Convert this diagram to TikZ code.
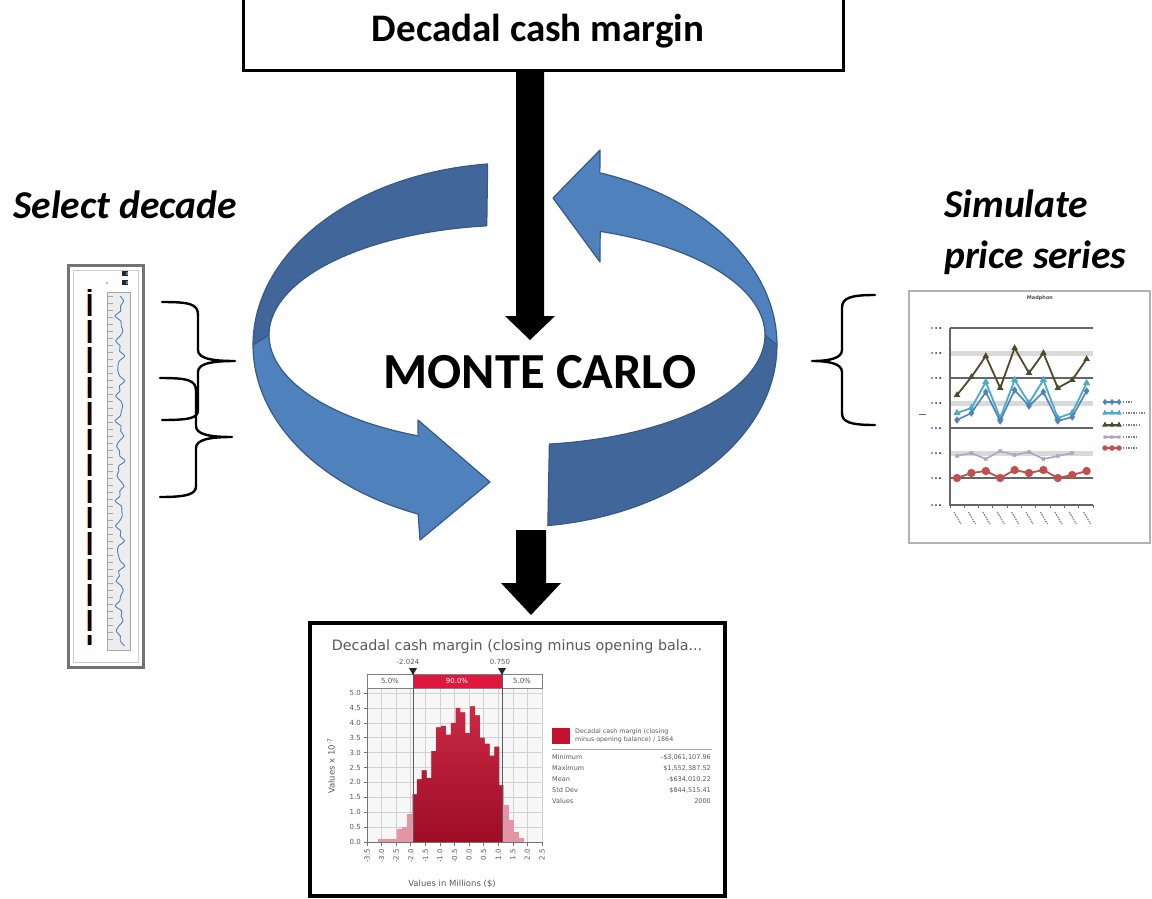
\documentclass[tikz,border=0pt]{standalone}
\usepackage{fontspec}
\setmainfont{Carlito}
\newfontfamily\chartfont{DejaVu Sans}
\usetikzlibrary{calc,plotmarks}
\definecolor{ringlight}{HTML}{4F81BD}
\definecolor{ringdark}{HTML}{41679A}
\definecolor{ringedge}{HTML}{365A88}
\definecolor{histred}{HTML}{C41230}
\definecolor{histdark}{HTML}{9E0C25}
\definecolor{barred}{HTML}{E0163F}
\definecolor{chartgray}{HTML}{595959}
\definecolor{gridgray}{HTML}{D9D9D9}
\definecolor{serolive}{HTML}{4E4A2B}
\definecolor{sercyan}{HTML}{4BACC6}
\definecolor{serblue}{HTML}{4F81BD}
\definecolor{serlav}{HTML}{B3A2C7}
\definecolor{serred}{HTML}{C0504D}
\tikzset{
  ringpart/.style={line width=1.2pt, draw=ringedge, line join=round},
  bracestroke/.style={line width=2.4pt, line cap=round, line join=round},
  bigtitle/.style={font=\fontsize{39}{41}\selectfont\bfseries, inner sep=0pt},
  sidelabel/.style={font=\fontsize{39.5}{51}\selectfont\bfseries\itshape, align=left, inner sep=0pt},
  chtxt/.style={font=\chartfont\fontsize{7}{8}\selectfont, text=chartgray, inner sep=0pt},
  legtxt/.style={font=\chartfont\fontsize{6.5}{7.5}\selectfont, text=chartgray, inner sep=0pt},
}
\begin{document}
\begin{tikzpicture}[x=1pt,y=-1pt]
\useasboundingbox (0,0) rectangle (1152,898);

% ---------- result box at the top ----------
\draw[line width=3pt] (243,-5) -- (243,70) -- (843,70) -- (843,-5);
\node[bigtitle] (margin) at (538,31) {Decadal cash margin};

% ---------- circular sweep arrows ----------
% left sweep: dark back part, light front part carrying the head
\fill[ringdark] plot[domain=264:180,samples=50] ({515+262*cos(\x)},{345+182*sin(\x)})
   -- plot[domain=180:263,samples=50] ({517+248*cos(\x)},{335+110*sin(\x)}) -- cycle;
\fill[ringlight] plot[domain=180:111.7,samples=50] ({515+262*cos(\x)},{345+182*sin(\x)})
   -- (420,540) -- (490,482) -- (418,420)
   -- plot[domain=113.5:180,samples=50] ({517+248*cos(\x)},{335+110*sin(\x)}) -- cycle;
\draw[ringpart] plot[domain=264:111.7,samples=100] ({515+262*cos(\x)},{345+182*sin(\x)})
   -- (420,540) -- (490,482) -- (418,420)
   -- plot[domain=113.5:263,samples=100] ({517+248*cos(\x)},{335+110*sin(\x)}) -- cycle;
\draw[ringpart] (253,345) -- (269,335);
% right sweep: dark front part, light back part carrying the head
\fill[ringdark] plot[domain=82.8:0,samples=50] ({515+262*cos(\x)},{345+182*sin(\x)})
   -- plot[domain=0:82.5,samples=50] ({517+248*cos(\x)},{335+110*sin(\x)}) -- cycle;
\fill[ringlight] plot[domain=360:288.9,samples=50] ({515+262*cos(\x)},{345+182*sin(\x)})
   -- (600,150) -- (553,198) -- (600,262)
   -- plot[domain=289.6:360,samples=50] ({517+248*cos(\x)},{335+110*sin(\x)}) -- cycle;
\draw[ringpart] plot[domain=82.8:-71.1,samples=100] ({515+262*cos(\x)},{345+182*sin(\x)})
   -- (600,150) -- (553,198) -- (600,262)
   -- plot[domain=-70.4:82.5,samples=100] ({517+248*cos(\x)},{335+110*sin(\x)}) -- cycle;
\draw[ringpart] (777,345) -- (765,335);

% ---------- centre label and block arrows ----------
\node[font=\fontsize{50.5}{52}\selectfont\bfseries, inner sep=0pt] (mc) at (540,372) {MONTE CARLO};
\coordinate (inTop) at (530,70);
\coordinate (inTip) at (530,340);
\fill (516,70) -- (516,316) -- (505,316) -- (inTip) -- (555,316) -- (544,316) -- (544,70) -- cycle;
\coordinate (outTop) at (531,530);
\coordinate (outTip) at (531,615);
\fill (516,530) -- (516,583) -- (501,583) -- (outTip) -- (561,583) -- (546,583) -- (546,530) -- cycle;

% ---------- side labels ----------
\node[sidelabel] (sel) at (125,205) {Select decade};
\node[sidelabel, anchor=north west] (sim) at (944,190) {Simulate\\price series};

% ---------- left panel: historical series ----------
\fill[white] (68,265) rectangle (143,667);
\draw[black!55, line width=3pt] (68,265) rectangle (143,667);
\draw[black!20, line width=0.8pt] (73,270) rectangle (138,662);
\fill[black!85] (122,271) rectangle (128,276);
\fill[black!85] (122,280) rectangle (128,285);
\fill[serblue] (126,272) rectangle (128,275);
\fill[serblue] (126,281) rectangle (128,284);
\fill[serblue] (107,283) circle (0.8);
\foreach \a/\b in {289/292,294/316,320/343,347/373,377/398,402/425,429/450,454/476,480/503,507/528,532/555,559/580,584/606,610/631,635/645}{
  \draw[orange!70, line width=0.8pt] (87,\a) -- (87,\b);
  \draw[black!90!red, line width=2.4pt] (89.3,\a) -- (89.3,\b);
  \draw[serblue, line width=0.8pt] (91.5,\a) -- (91.5,\b);
}
\fill[black!7] (107,292) rectangle (130,650);
\draw[black!35, line width=1pt] (107,292) rectangle (130,650);
\foreach \y in {296,303,...,645} \draw[black!35, line width=0.6pt] (108,\y) -- (113,\y);
\draw[serblue, line width=0.9pt] plot[domain=0:35, samples=71, smooth] ({120+3*sin(\x*137)+2*sin(\x*311)},{296+10*\x});

% ---------- left braces ----------
\draw[bracestroke] (162,302) .. controls (190,302) and (198,304) .. (198,315) -- (198,350)
   .. controls (198,358) and (210,361) .. (235,361)
   .. controls (210,361) and (198,364) .. (198,372) -- (198,410)
   .. controls (198,418) and (190,420) .. (162,420);
\draw[bracestroke] (160,378) .. controls (188,378) and (196,380) .. (196,391) -- (196,426)
   .. controls (196,434) and (208,437) .. (232,437)
   .. controls (208,437) and (196,440) .. (196,448) -- (196,486)
   .. controls (196,494) and (188,497) .. (160,497);

% ---------- right brace ----------
\draw[bracestroke] (875,295) .. controls (850,295) and (842,298) .. (842,308) -- (842,350)
   .. controls (842,358) and (830,361) .. (812,361)
   .. controls (830,361) and (842,364) .. (842,372) -- (842,413)
   .. controls (842,422) and (850,425) .. (875,425);

% ---------- right panel: simulated price series ----------
\fill[white] (909,291) rectangle (1150,543);
\draw[black!30, line width=1.5pt] (909,291) rectangle (1150,543);
\node[font=\chartfont\bfseries\fontsize{5}{5}\selectfont, text=black!70, inner sep=0pt] (sptitle) at (1040,298) {Madphon};
\foreach \y in {353,403,453} \draw[gridgray, line width=5pt] (950,\y) -- (1093,\y);
\foreach \y in {328,378,428,478} \draw[black!60, line width=1.6pt] (950,\y) -- (1093,\y);
\draw[black!60, line width=1.8pt] (950,328) -- (950,505) -- (1093,505);
\foreach \i in {0,...,10} \draw[black!60, line width=1pt] ({950+14.3*\i},505) -- ++(0,3);
\foreach \y in {328,353,378,403,428,453,478,505}{
  \fill[violet] (932,\y) circle (0.8);
  \fill[black!80] (936,\y) circle (1);
  \fill[blue!70!black] (940,\y) circle (1);
}
\draw[black!60, line width=1pt] (919,414) -- (926,414);
\foreach \i in {0,...,9}
  \draw[black!45, line width=1.3pt, dash pattern=on 1.6pt off 1pt] ({954+14.4*\i},512) -- ++(7,12);
\draw[serolive, line width=1.8pt] plot[mark=triangle*, mark size=2pt] coordinates
  {(957,395) (971.4,377) (985.8,356) (1000.2,388) (1014.6,348) (1029,373) (1043.4,353) (1057.8,388) (1072.2,380) (1086.6,359)};
\draw[sercyan, line width=1.8pt] plot[mark=triangle*, mark size=2.4pt] coordinates
  {(957,413) (971.4,408) (985.8,382) (1000.2,418) (1014.6,380) (1029,403) (1043.4,380) (1057.8,418) (1072.2,413) (1086.6,383)};
\draw[serblue, line width=1.6pt] plot[mark=diamond*, mark size=2.4pt] coordinates
  {(957,420) (971.4,413) (985.8,392) (1000.2,421) (1014.6,390) (1029,406) (1043.4,392) (1057.8,421) (1072.2,417) (1086.6,391)};
\draw[serlav, line width=1.6pt] plot[mark=x, mark size=2.2pt] coordinates
  {(957,456) (971.4,453) (985.8,459) (1000.2,451) (1014.6,455) (1029,452) (1043.4,459) (1057.8,456) (1072.2,453)};
\draw[serred, line width=1.8pt] plot[mark=*, mark size=3.2pt] coordinates
  {(957,478) (971.4,473) (985.8,471) (1000.2,478) (1014.6,470) (1029,473) (1043.4,470) (1057.8,478) (1072.2,475) (1086.6,471)};
\foreach \y/\c/\m/\w in {402/serblue/diamond*/10,413/sercyan/triangle*/22,425/serolive/triangle*/18,437/serlav/x/14,448/serred/*/14}{
  \draw[\c, line width=1.4pt] plot[mark=\m, mark size=2pt] coordinates {(1105,\y) (1112,\y) (1119,\y)};
  \draw[black!50, line width=1.3pt, dash pattern=on 1.4pt off 1.2pt] (1123,\y) -- ++(\w,0);
}

% ---------- bottom panel: distribution of the decadal margin ----------
\fill[white] (310,623) rectangle (725,896);
\draw[line width=3.5pt] (310,623) rectangle (725,896);
\node[font=\chartfont\fontsize{14.3}{15}\selectfont, text=chartgray, inner sep=0pt] (htitle) at (517,647)
  {Decadal cash margin (closing minus opening bala...};
% plot area and grid
\fill[black!3] (367,688) rectangle (542,842);
\foreach \i in {1,...,12} \draw[black!18, line width=0.6pt] ({367+14.583*\i},688) -- ({367+14.583*\i},842);
\foreach \i in {1,...,10} \draw[black!18, line width=0.6pt] (367,{842-14.9*\i}) -- (542,{842-14.9*\i});
% bars outside the central band (lighter), then the central band solid
\foreach \h [count=\k from 0] in {0.1,0.1,0.1,0.1,0.45,0.5,0.95,1.6,2.1,2.4,2.15,3.05,3.85,3.9,3.6,4.0,4.5,4.35,3.65,4.55,4.25,3.5,3.3,2.9,3.2,1.9,1.25,0.75,0.35,0.15}
  \fill[histred!45] ({378+4.85*\k},842) rectangle ++(4.85,{-\h*29.8});
\begin{scope}
  \clip (413,600) rectangle (502,845);
  \shade[top color=histred!90!white, bottom color=histdark]
   \foreach \h [count=\k from 0] in {0.1,0.1,0.1,0.1,0.45,0.5,0.95,1.6,2.1,2.4,2.15,3.05,3.85,3.9,3.6,4.0,4.5,4.35,3.65,4.55,4.25,3.5,3.3,2.9,3.2,1.9,1.25,0.75,0.35,0.15}
   { ({378+4.85*\k},842) rectangle ++(4.85,{-\h*29.8}) };
\end{scope}
% axes
\draw[black!55, line width=0.8pt] (367,688) -- (367,842) -- (542,842);
\foreach \v [count=\i from 0] in {0.0,0.5,1.0,1.5,2.0,2.5,3.0,3.5,4.0,4.5,5.0}{
  \draw[black!55, line width=0.6pt] (364,{842-14.9*\i}) -- (367,{842-14.9*\i});
  \node[chtxt, anchor=east] (yl\i) at (361,{842-14.9*\i}) {\v};
}
\foreach \v [count=\i from 0] in {-3.5,-3.0,-2.5,-2.0,-1.5,-1.0,-0.5,0.0,0.5,1.0,1.5,2.0,2.5}{
  \draw[black!55, line width=0.6pt] ({367+14.583*\i},842) -- ({367+14.583*\i},846);
  \node[chtxt, rotate=90, anchor=east] (xl\i) at ({367+14.583*\i},849) {\v};
}
\node[font=\chartfont\fontsize{8.5}{9}\selectfont, text=chartgray, rotate=90, inner sep=0pt] (ytitle) at (331,766) {Values x 10\textsuperscript{-7}};
\node[font=\chartfont\fontsize{8.5}{9}\selectfont, text=chartgray, inner sep=0pt] (xtitle) at (452,884) {Values in Millions (\$)};
% percentile bar and markers
\fill[white] (367,674) rectangle (542,688);
\fill[barred] (413,674) rectangle (502,688);
\draw[black!50, line width=0.8pt] (367,674) rectangle (542,688);
\node[chtxt] (p1) at (390,681) {5.0\%};
\node[chtxt, text=white] (p2) at (457,681) {90.0\%};
\node[chtxt] (p3) at (522,681) {5.0\%};
\draw[chartgray, line width=1pt] (413,672) -- (413,842);
\draw[chartgray, line width=1pt] (502,672) -- (502,842);
\fill[black!85] (409,668) -- (417,668) -- (413,675) -- cycle;
\fill[black!85] (498,668) -- (506,668) -- (502,675) -- cycle;
\node[chtxt] (lo) at (408,662) {-2.024};
\node[chtxt] (hi) at (500,662) {0.750};
% legend and statistics
\fill[histred] (552,728) rectangle (570,744);
\node[legtxt, anchor=west, align=left, font=\chartfont\fontsize{6.3}{7.6}\selectfont] (leg) at (575,736)
  {Decadal cash margin (closing\\minus opening balance) / 1864};
\draw[black!35, line width=0.8pt] (552,749) -- (712,749);
\foreach \n/\v/\y in {Minimum/-\$3{,}061{,}107.96/757,Maximum/\$1{,}552{,}387.52/768,Mean/-\$634{,}010.22/779,Std Dev/\$844{,}515.41/790,Values/2000/801}{
  \node[legtxt, anchor=west] at (552,\y) {\n};
  \node[legtxt, anchor=east] at (711,\y) {\v};
}
\end{tikzpicture}
\end{document}
